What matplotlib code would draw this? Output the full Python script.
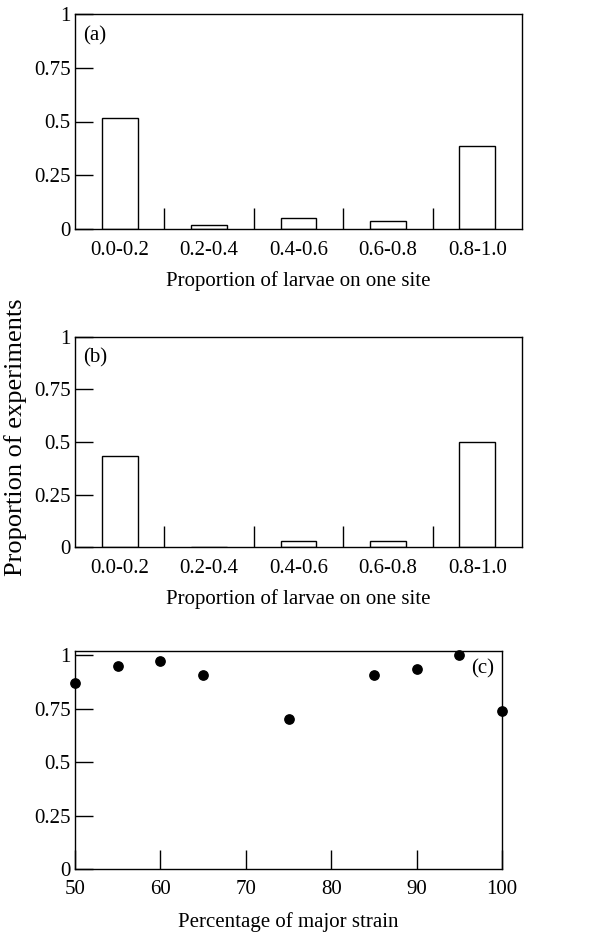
import numpy as np
import matplotlib.pyplot as plt

plt.rcParams['font.family'] = ['Liberation Serif', 'DejaVu Serif']
plt.rcParams['font.size'] = 15

bins = ['0.0-0.2', '0.2-0.4', '0.4-0.6', '0.6-0.8', '0.8-1.0']
prop_a = [0.515, 0.017, 0.053, 0.039, 0.388]
prop_b = [0.433, 0.0, 0.027, 0.027, 0.5]

strain_pct = [50, 55, 60, 65, 75, 85, 90, 95, 100]
prop_c = [0.871, 0.950, 0.973, 0.908, 0.701, 0.908, 0.936, 1.0, 0.737]

yticks = [0, 0.25, 0.5, 0.75, 1]
yticklabels = ['0', '0.25', '0.5', '0.75', '1']

W, H = 610, 932
fig = plt.figure(figsize=(W / 100, H / 100), dpi=100)


def px_axes(left, top, right, bottom):
    return fig.add_axes([left / W, 1 - bottom / H, (right - left) / W, (bottom - top) / H])


def bar_panel(ax, vals, tag):
    x = np.arange(len(bins)) + 0.5
    ax.bar(x, vals, width=0.4, color='white', edgecolor='black', linewidth=1.0)
    ax.set_xlim(0, len(bins))
    ax.set_ylim(0, 1)
    ax.set_xticks(x)
    ax.set_xticklabels(bins)
    ax.set_xticks(np.arange(1, len(bins)), minor=True)
    ax.tick_params(axis='x', which='major', length=0, pad=8.5)
    ax.tick_params(axis='x', which='minor', direction='in', length=15, width=1.0)
    ax.set_yticks(yticks)
    ax.set_yticklabels(yticklabels)
    ax.tick_params(axis='y', direction='in', length=13, width=1.0, pad=3)
    ax.set_xlabel('Proportion of larvae on one site', labelpad=8)
    ax.text(0.018, 0.9, tag, transform=ax.transAxes, ha='left', va='center')
    for s in ax.spines.values():
        s.set_linewidth(1.0)


ax_a = px_axes(75, 14, 522, 229)
bar_panel(ax_a, prop_a, '(a)')

ax_b = px_axes(75, 337, 522, 547)
bar_panel(ax_b, prop_b, '(b)')

ax_c = px_axes(75, 651, 502, 869)
ax_c.scatter(strain_pct, prop_c, s=45, color='black', clip_on=False, zorder=3)
ax_c.set_xlim(50, 100)
ax_c.set_ylim(0, 1.02)
ax_c.set_xticks([50, 60, 70, 80, 90, 100])
ax_c.tick_params(axis='x', direction='in', length=14, width=1.0, pad=8)
ax_c.set_yticks(yticks)
ax_c.set_yticklabels(yticklabels)
ax_c.tick_params(axis='y', direction='in', length=13, width=1.0, pad=3)
ax_c.set_xlabel('Percentage of major strain', labelpad=9)
ax_c.text(0.981, 0.917, '(c)', transform=ax_c.transAxes, ha='right', va='center')
for s in ax_c.spines.values():
    s.set_linewidth(1.0)

fig.text(16 / W, 1 - 437 / H, 'Proportion of experiments', rotation=90,
         ha='center', va='center', fontsize=19)

fig.savefig('out.png', dpi=100)
